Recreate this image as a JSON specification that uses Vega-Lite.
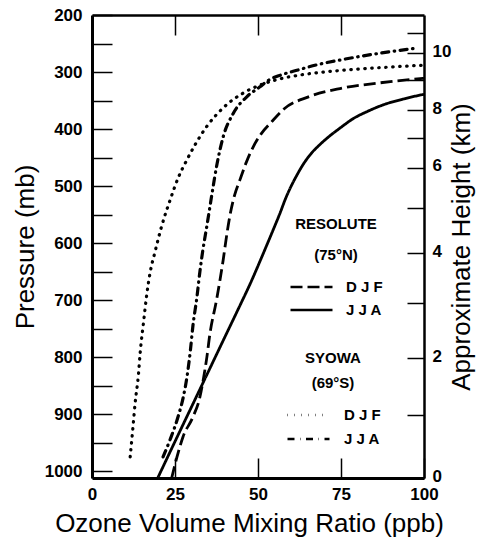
{
  "$schema": "https://vega.github.io/schema/vega-lite/v6.json",
  "width": 332,
  "height": 463,
  "autosize": {"type": "none"},
  "padding": {"left": 92, "top": 15, "right": 54, "bottom": 60},
  "background": "white",
  "config": {
    "view": {"stroke": null},
    "font": "Liberation Sans",
    "axis": {"grid": false, "domainColor": "black", "tickColor": "black", "labelColor": "black", "titleColor": "black", "labelFont": "Liberation Sans", "labelFontWeight": "bold", "labelFontSize": 17, "titleFont": "Liberation Sans", "titleFontWeight": "normal", "titleFontSize": 26, "tickWidth": 1.5, "domainWidth": 3}
  },
  "data": {"values": [
    {"station": "Resolute", "season": "JJA", "ppb": 19.8, "p": 1012},
    {"station": "Resolute", "season": "JJA", "ppb": 25, "p": 948},
    {"station": "Resolute", "season": "JJA", "ppb": 30, "p": 887},
    {"station": "Resolute", "season": "JJA", "ppb": 35, "p": 826},
    {"station": "Resolute", "season": "JJA", "ppb": 40, "p": 765},
    {"station": "Resolute", "season": "JJA", "ppb": 44.6, "p": 709},
    {"station": "Resolute", "season": "JJA", "ppb": 47.6, "p": 672},
    {"station": "Resolute", "season": "JJA", "ppb": 50, "p": 640},
    {"station": "Resolute", "season": "JJA", "ppb": 52.4, "p": 607},
    {"station": "Resolute", "season": "JJA", "ppb": 54.7, "p": 575},
    {"station": "Resolute", "season": "JJA", "ppb": 56.6, "p": 548},
    {"station": "Resolute", "season": "JJA", "ppb": 58.3, "p": 522},
    {"station": "Resolute", "season": "JJA", "ppb": 60, "p": 500},
    {"station": "Resolute", "season": "JJA", "ppb": 61.8, "p": 480},
    {"station": "Resolute", "season": "JJA", "ppb": 63.5, "p": 463},
    {"station": "Resolute", "season": "JJA", "ppb": 66, "p": 443},
    {"station": "Resolute", "season": "JJA", "ppb": 68.5, "p": 428},
    {"station": "Resolute", "season": "JJA", "ppb": 70.8, "p": 416},
    {"station": "Resolute", "season": "JJA", "ppb": 75, "p": 397},
    {"station": "Resolute", "season": "JJA", "ppb": 78.6, "p": 382},
    {"station": "Resolute", "season": "JJA", "ppb": 83, "p": 369},
    {"station": "Resolute", "season": "JJA", "ppb": 88, "p": 357},
    {"station": "Resolute", "season": "JJA", "ppb": 94, "p": 347},
    {"station": "Resolute", "season": "JJA", "ppb": 100, "p": 339},
    {"station": "Resolute", "season": "DJF", "ppb": 24, "p": 1012},
    {"station": "Resolute", "season": "DJF", "ppb": 25.6, "p": 975},
    {"station": "Resolute", "season": "DJF", "ppb": 27.4, "p": 940},
    {"station": "Resolute", "season": "DJF", "ppb": 30.4, "p": 905},
    {"station": "Resolute", "season": "DJF", "ppb": 32.5, "p": 870},
    {"station": "Resolute", "season": "DJF", "ppb": 33.5, "p": 840},
    {"station": "Resolute", "season": "DJF", "ppb": 34.6, "p": 800},
    {"station": "Resolute", "season": "DJF", "ppb": 35.5, "p": 760},
    {"station": "Resolute", "season": "DJF", "ppb": 37.5, "p": 700},
    {"station": "Resolute", "season": "DJF", "ppb": 39.5, "p": 630},
    {"station": "Resolute", "season": "DJF", "ppb": 40.6, "p": 585},
    {"station": "Resolute", "season": "DJF", "ppb": 41.6, "p": 550},
    {"station": "Resolute", "season": "DJF", "ppb": 43, "p": 515},
    {"station": "Resolute", "season": "DJF", "ppb": 44.5, "p": 490},
    {"station": "Resolute", "season": "DJF", "ppb": 46.5, "p": 458},
    {"station": "Resolute", "season": "DJF", "ppb": 48.5, "p": 432},
    {"station": "Resolute", "season": "DJF", "ppb": 51, "p": 408},
    {"station": "Resolute", "season": "DJF", "ppb": 54, "p": 388},
    {"station": "Resolute", "season": "DJF", "ppb": 58, "p": 364},
    {"station": "Resolute", "season": "DJF", "ppb": 65, "p": 344},
    {"station": "Resolute", "season": "DJF", "ppb": 74.7, "p": 329},
    {"station": "Resolute", "season": "DJF", "ppb": 86.7, "p": 319},
    {"station": "Resolute", "season": "DJF", "ppb": 100, "p": 311},
    {"station": "Syowa", "season": "DJF", "ppb": 11.5, "p": 975},
    {"station": "Syowa", "season": "DJF", "ppb": 12.3, "p": 925},
    {"station": "Syowa", "season": "DJF", "ppb": 13, "p": 880},
    {"station": "Syowa", "season": "DJF", "ppb": 14, "p": 830},
    {"station": "Syowa", "season": "DJF", "ppb": 14.5, "p": 793},
    {"station": "Syowa", "season": "DJF", "ppb": 15.5, "p": 740},
    {"station": "Syowa", "season": "DJF", "ppb": 16.5, "p": 690},
    {"station": "Syowa", "season": "DJF", "ppb": 17.5, "p": 652},
    {"station": "Syowa", "season": "DJF", "ppb": 19, "p": 615},
    {"station": "Syowa", "season": "DJF", "ppb": 21, "p": 570},
    {"station": "Syowa", "season": "DJF", "ppb": 23.5, "p": 525},
    {"station": "Syowa", "season": "DJF", "ppb": 26, "p": 485},
    {"station": "Syowa", "season": "DJF", "ppb": 28.5, "p": 455},
    {"station": "Syowa", "season": "DJF", "ppb": 31, "p": 428},
    {"station": "Syowa", "season": "DJF", "ppb": 34.5, "p": 396},
    {"station": "Syowa", "season": "DJF", "ppb": 39.5, "p": 363},
    {"station": "Syowa", "season": "DJF", "ppb": 45.5, "p": 337},
    {"station": "Syowa", "season": "DJF", "ppb": 50.6, "p": 323},
    {"station": "Syowa", "season": "DJF", "ppb": 56.6, "p": 312},
    {"station": "Syowa", "season": "DJF", "ppb": 63, "p": 305},
    {"station": "Syowa", "season": "DJF", "ppb": 70, "p": 300},
    {"station": "Syowa", "season": "DJF", "ppb": 85, "p": 293},
    {"station": "Syowa", "season": "DJF", "ppb": 100, "p": 288},
    {"station": "Syowa", "season": "JJA", "ppb": 21.4, "p": 975},
    {"station": "Syowa", "season": "JJA", "ppb": 23.5, "p": 945},
    {"station": "Syowa", "season": "JJA", "ppb": 25.9, "p": 905},
    {"station": "Syowa", "season": "JJA", "ppb": 27.5, "p": 870},
    {"station": "Syowa", "season": "JJA", "ppb": 28.6, "p": 835},
    {"station": "Syowa", "season": "JJA", "ppb": 29.6, "p": 790},
    {"station": "Syowa", "season": "JJA", "ppb": 30.4, "p": 745},
    {"station": "Syowa", "season": "JJA", "ppb": 31.6, "p": 695},
    {"station": "Syowa", "season": "JJA", "ppb": 32.5, "p": 650},
    {"station": "Syowa", "season": "JJA", "ppb": 33.4, "p": 612},
    {"station": "Syowa", "season": "JJA", "ppb": 34.6, "p": 570},
    {"station": "Syowa", "season": "JJA", "ppb": 36.1, "p": 515},
    {"station": "Syowa", "season": "JJA", "ppb": 37.7, "p": 460},
    {"station": "Syowa", "season": "JJA", "ppb": 39.5, "p": 414},
    {"station": "Syowa", "season": "JJA", "ppb": 42.5, "p": 373},
    {"station": "Syowa", "season": "JJA", "ppb": 46.7, "p": 343},
    {"station": "Syowa", "season": "JJA", "ppb": 50.6, "p": 326},
    {"station": "Syowa", "season": "JJA", "ppb": 53, "p": 315},
    {"station": "Syowa", "season": "JJA", "ppb": 57, "p": 305},
    {"station": "Syowa", "season": "JJA", "ppb": 61.7, "p": 297},
    {"station": "Syowa", "season": "JJA", "ppb": 68, "p": 287},
    {"station": "Syowa", "season": "JJA", "ppb": 74.7, "p": 279},
    {"station": "Syowa", "season": "JJA", "ppb": 86.7, "p": 267},
    {"station": "Syowa", "season": "JJA", "ppb": 98, "p": 258}
  ]},
  "layer": [
    {
      "transform": [{"filter": "datum.station == 'Resolute'"}],
      "mark": {"type": "line", "color": "black", "strokeWidth": 2.8, "strokeCap": "butt", "interpolate": "monotone"},
      "encoding": {
        "x": {"field": "ppb", "type": "quantitative", "scale": {"domain": [0, 100], "nice": false, "zero": false},
          "axis": {"orient": "bottom", "values": [0, 25, 50, 75, 100], "tickSize": -20, "labelPadding": 28, "title": "Ozone Volume Mixing Ratio (ppb)", "titleAnchor": "middle", "titleX": 157, "titleY": 53, "titleBaseline": "alphabetic", "labelFlush": false}},
        "y": {"field": "p", "type": "quantitative", "scale": {"domain": [200, 1012], "reverse": true, "nice": false, "zero": false},
          "axis": {"orient": "left", "values": [200, 250, 300, 350, 400, 450, 500, 550, 600, 650, 700, 750, 800, 850, 900, 950, 1000], "labelExpr": "datum.value % 100 == 0 ? datum.label : ''", "format": "d", "tickSize": -20, "labelPadding": 30, "title": "Pressure (mb)", "titleX": -59, "titleBaseline": "alphabetic", "titleAngle": 270, "labelFlush": false}},
        "strokeDash": {"field": "season", "type": "nominal", "scale": {"domain": ["DJF", "JJA"], "range": [[12, 5], [1, 0]]},
          "legend": {"orient": "none", "legendX": 197, "legendY": 202, "title": ["RESOLUTE", "(75°N)"], "titleFont": "Liberation Sans", "titleFontSize": 15, "titleFontWeight": "bold", "titleColor": "black", "titleLineHeight": 31, "titleAnchor": "middle", "titleAlign": "center", "titlePadding": 14, "symbolType": "stroke", "symbolSize": 1764, "symbolStrokeWidth": 2.5, "symbolStrokeColor": "black", "clipHeight": 20, "rowPadding": 3, "labelFont": "Liberation Sans", "labelFontSize": 15, "labelFontWeight": "bold", "labelColor": "black", "labelOffset": 12, "labelExpr": "datum.label == 'DJF' ? 'D J F' : 'J J A'", "padding": 0}}
      }
    },
    {
      "transform": [{"filter": "datum.station == 'Syowa'"}],
      "mark": {"type": "line", "color": "black", "strokeWidth": 3.2, "strokeCap": "round", "interpolate": "monotone"},
      "encoding": {
        "x": {"field": "ppb", "type": "quantitative", "scale": {"domain": [0, 100], "nice": false, "zero": false},
          "axis": {"orient": "top", "values": [25, 50, 75], "tickSize": -20, "labels": false, "title": null, "domainWidth": 2.5}},
        "y": {"field": "p", "type": "quantitative", "scale": {"domain": [200, 1012], "reverse": true, "nice": false, "zero": false},
          "axis": {"orient": "right", "values": [1012, 902, 802, 705, 618, 539, 468, 416, 367, 314, 267, 232], "labelExpr": "datum.value == 1012 ? '0' : datum.value == 802 ? '2' : datum.value == 618 ? '4' : datum.value == 468 ? '6' : datum.value == 367 ? '8' : datum.value == 267 ? '10' : ''", "tickSize": -17, "labelPadding": 25, "labelOffset": -2, "title": "Approximate Height (km)", "titleAngle": 270, "titleX": 45, "titleBaseline": "alphabetic", "labelFlush": false, "domainWidth": 2.5}},
        "strokeDash": {"field": "season", "type": "nominal", "scale": {"domain": ["DJF", "JJA"], "range": [[0.5, 6.5], [7, 5.5, 0.5, 5.5]]},
          "legend": {"orient": "none", "legendX": 194, "legendY": 336, "title": ["SYOWA", "(69°S)"], "titleFont": "Liberation Sans", "titleFontSize": 15, "titleFontWeight": "bold", "titleColor": "black", "titleLineHeight": 25, "titleAnchor": "middle", "titleAlign": "center", "titlePadding": 14, "symbolType": "stroke", "symbolSize": 1764, "symbolStrokeWidth": 2.5, "symbolStrokeColor": "black", "clipHeight": 20, "rowPadding": 4, "labelFont": "Liberation Sans", "labelFontSize": 15, "labelFontWeight": "bold", "labelColor": "black", "labelOffset": 13, "labelExpr": "datum.label == 'DJF' ? 'D J F' : 'J J A'", "padding": 0}}
      }
    }
  ],
  "resolve": {"scale": {"x": "independent", "y": "independent", "strokeDash": "independent"}, "legend": {"strokeDash": "independent"}}
}
